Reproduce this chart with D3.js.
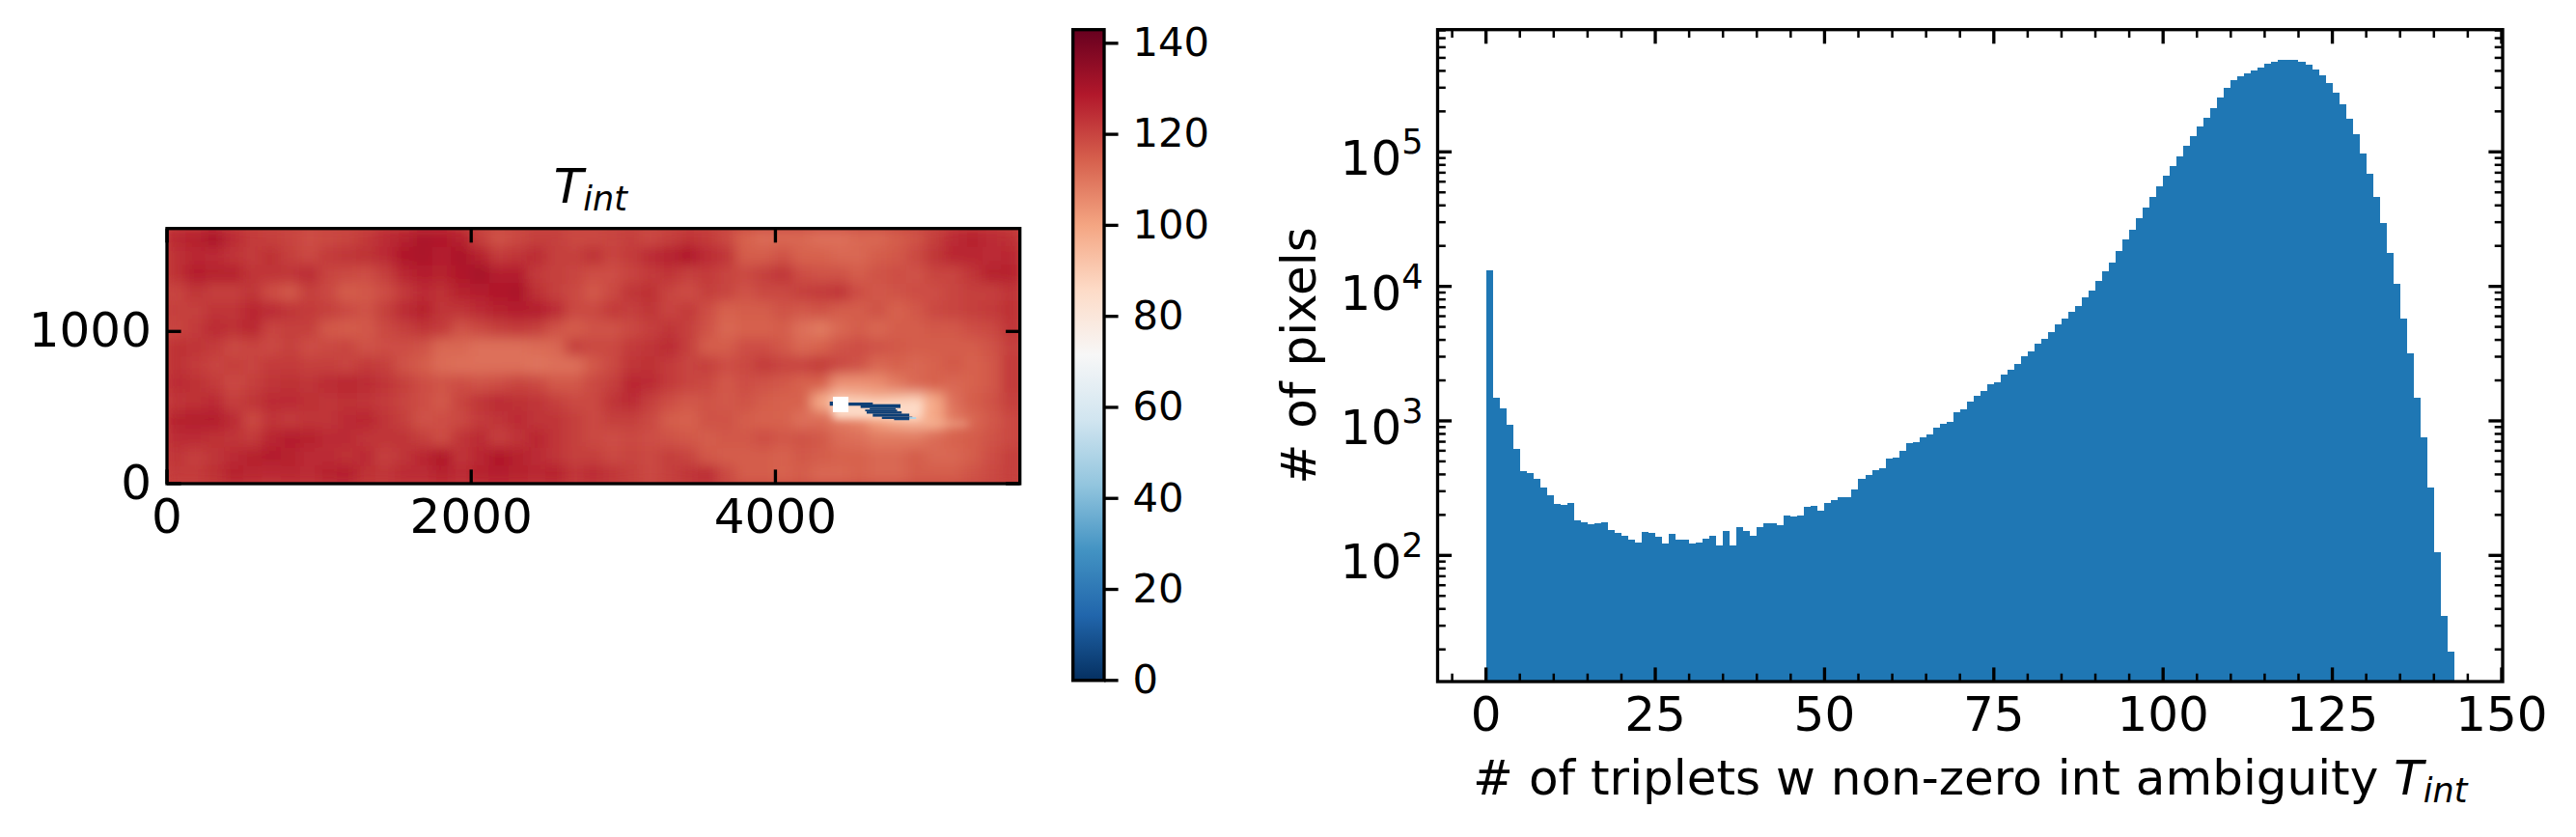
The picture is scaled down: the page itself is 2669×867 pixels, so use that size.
<!DOCTYPE html>
<html><head><meta charset="utf-8">
<script src="https://cdnjs.cloudflare.com/ajax/libs/d3/7.8.5/d3.min.js"></script>
<style>html,body{margin:0;padding:0;background:#fff}svg{display:block}text{font-family:'DejaVu Sans';fill:#000}</style>
</head><body><svg id="fig" width="2669" height="867"></svg>
<script>
// ---------- Right panel: histogram (pixel count per integer bin, starting at 0) ----------
const histCounts = [13240,1486,1240,936,619,421,410,371,320,280,241,238,245,182,176,171,173,176,155,147,
 140,131,125,150,147,138,123,145,131,131,123,125,133,140,119,152,119,162,152,140,
 162,173,173,168,198,195,198,230,233,215,245,258,271,271,309,371,396,431,445,525,
 534,599,684,695,755,793,891,951,984,1160,1219,1392,1537,1669,1874,1936,2211,2400,2651,3026,
 3286,3750,4074,4575,5220,5764,6470,7185,8336,9360,11040,13030,15100,18430,22490,26510,32330,38770,46500,55700,
 66800,78900,93100,111000,131000,154500,179000,211000,253000,299000,342000,365000,384000,403000,424000,452000,467000,483000,483000,483000,
 467000,445000,409000,371000,325000,275000,226000,176000,135000,97200,68700,46200,29600,17800,10500,5770,3180,1486,755,320,
 106,35.5,19.3];
const histMajorX = [0,25,50,75,100,125,150];
const histMinorX = [-5,5,10,15,20,30,35,40,45,55,60,65,70,80,85,90,95,105,110,115,120,130,135,140,145];
const histDecades = [100,1000,10000,100000];
const histMinorY = [20,30,40,50,60,70,80,90,200,300,400,500,600,700,800,900,2000,3000,4000,5000,6000,7000,8000,9000,
 20000,30000,40000,50000,60000,70000,80000,90000,200000,300000,400000,500000,600000,700000,800000];

// ---------- Left panel: T_int map, coarse reading of the local mean (rows from top to bottom) ----------
const heatGrid = [
 [126,127,130,125,122,121,120,118,119,120,122,125,127,130,129,127,121,117,119,121,121,119,119,120,121,119,121,123,122,119,114,112,113,113,111,111,113,113,115,117,121,125,127,125,124],
 [124,126,125,123,122,124,121,119,122,123,124,125,129,130,128,130,127,122,123,125,121,121,124,120,122,125,127,129,125,123,115,115,117,114,114,113,113,115,116,119,123,126,126,125,126],
 [124,128,127,127,123,123,123,125,120,119,118,121,126,128,127,129,131,128,128,122,121,120,118,118,120,122,123,121,122,120,119,121,123,118,117,117,115,117,118,117,120,120,123,127,127],
 [120,123,121,121,123,118,116,121,119,115,116,118,122,125,124,127,128,129,130,124,121,119,116,119,123,124,120,118,121,120,117,119,119,121,122,123,118,116,117,118,118,120,121,121,123],
 [121,121,123,123,126,125,123,122,121,119,117,121,125,127,123,123,125,127,128,128,125,119,119,122,121,123,120,122,118,114,115,115,117,116,117,115,115,117,114,116,119,120,121,122,124],
 [120,122,125,124,126,120,121,121,116,115,116,119,121,123,122,117,119,121,122,121,117,115,117,117,119,121,123,121,117,113,114,114,115,111,109,113,115,113,115,115,116,116,118,119,123],
 [124,123,122,119,120,119,121,118,119,120,117,118,118,117,113,113,111,111,111,112,113,121,119,119,122,123,125,121,115,115,118,118,116,113,114,117,118,117,116,115,115,115,115,117,121],
 [124,122,120,121,120,122,122,121,121,120,122,121,117,115,112,111,111,111,111,110,111,111,116,119,123,124,122,120,121,118,119,122,120,120,122,119,117,113,114,113,114,116,114,116,122],
 [125,124,122,119,121,123,124,123,125,126,125,123,121,118,117,118,117,118,120,119,116,116,119,121,126,125,122,120,119,116,118,117,116,114,114,104,104,105,109,113,114,113,114,116,122],
 [123,124,125,121,123,125,125,124,123,124,123,122,120,118,116,120,123,125,124,123,121,119,119,123,125,121,118,116,117,116,117,115,114,114,99,91,93,95,93,91,99,111,115,117,121],
 [127,128,128,125,119,123,122,123,123,125,126,123,121,117,118,119,122,123,125,123,123,121,119,121,121,119,115,114,117,117,115,114,114,111,112,109,107,101,97,95,99,109,113,116,119],
 [125,125,124,123,122,126,128,127,125,125,123,123,123,121,118,123,125,121,123,126,123,121,119,118,119,118,117,116,115,116,116,118,116,117,116,112,111,109,109,109,112,114,115,117,119],
 [123,121,123,125,127,128,127,125,125,124,125,121,123,126,129,123,126,129,127,125,123,121,121,119,120,119,121,120,116,115,115,115,114,116,115,114,114,113,113,115,113,113,115,118,121],
 [122,122,124,127,126,125,126,125,127,128,124,123,125,125,127,125,127,128,127,126,127,123,125,123,121,119,121,123,125,119,115,115,114,115,113,113,114,113,113,115,115,115,117,119,121]
];
// Fine features around the anomaly: x0,x1,y0,y1 in map units and the value read there.
const haloRuns = [
 [4380,4960,425,545,86],[4980,5270,385,400,92]
];
const blueRuns = [
 [4357,4378,512,539,4],[4480,4640,512,533,4],[4560,4822,497,522,4],[4620,4790,487,497,4],[4590,4800,475,487,4],
 [4600,4830,460,475,4],[4640,4880,440,460,4],[4700,4900,425,440,4],[4780,4880,417,425,6],[4880,4925,425,437,50]
];
const maskedBox = [4378,4480,470,571];
const mapTicksX = [0,2000,4000];
const mapTicksY = [0,1000];
const mapExtent = [5607,1676];
const cbarTicks = [0,20,40,60,80,100,120,140];
const cbarDomain = [0,143];
const rdbuStops = ["#053061","#2166ac","#4393c3","#92c5de","#d1e5f0","#f7f7f7","#fddbc7","#f4a582","#d6604d","#b2182b","#67001f"];
const tickLabelHistX = "# of triplets w non-zero int ambiguity ";
const tickLabelHistY = "# of pixels";

// ---------- Layout ----------
const svg = d3.select("#fig");
const SPINE = 3.33, MAJOR = 14.6, MINOR = 8.3, FS = 50, FS_CB = 41.67;
const color = d3.scaleLinear().domain(rdbuStops.map((c,i)=>cbarDomain[1]*i/10)).range(rdbuStops).interpolate(d3.interpolateRgb);

function styleAxis(g, w){
  g.select(".domain").remove();
  g.selectAll("line").attr("stroke","#000").attr("stroke-width",w);
  g.selectAll("text").attr("font-size",FS).attr("font-family","DejaVu Sans").attr("fill","#000");
}
function spines(l,r,t,b){
  svg.append("rect").attr("x",l).attr("y",t).attr("width",r-l).attr("height",b-t)
    .attr("fill","none").attr("stroke","#000").attr("stroke-width",SPINE);
}
function mathT(sel, size){
  sel.append("tspan").attr("font-style","italic").text("T");
  sel.append("tspan").attr("font-style","italic").attr("font-size",size*0.7).attr("dy",size*0.16).text("int");
}

// ---------- Map ----------
const mL=173, mR=1056.7, mT=236.7, mB=501;
const mx = d3.scaleLinear().domain([0,mapExtent[0]]).range([mL,mR]);
const my = d3.scaleLinear().domain([0,mapExtent[1]]).range([mB,mT]);
const defs = svg.append("defs");
defs.append("clipPath").attr("id","mapClip").append("rect").attr("x",mL).attr("y",mT).attr("width",mR-mL).attr("height",mB-mT);
const blur = defs.append("filter").attr("id","soft").attr("filterUnits","userSpaceOnUse")
  .attr("x",mL-60).attr("y",mT-60).attr("width",mR-mL+120).attr("height",mB-mT+120);
blur.append("feGaussianBlur").attr("stdDeviation",6.5);
defs.append("filter").attr("id","soft2").attr("filterUnits","userSpaceOnUse")
  .attr("x",mL).attr("y",mT).attr("width",mR-mL).attr("height",mB-mT)
  .append("feGaussianBlur").attr("stdDeviation",4);
const mapG = svg.append("g").attr("clip-path","url(#mapClip)");
mapG.append("rect").attr("x",mL).attr("y",mT).attr("width",mR-mL).attr("height",mB-mT).attr("fill",color(120));
const nRows = heatGrid.length, nCols = heatGrid[0].length;
const cw = mapExtent[0]/nCols, ch = mapExtent[1]/nRows;
const coarse = mapG.append("g").attr("filter","url(#soft)");
heatGrid.forEach((row,r)=>{
  coarse.selectAll(null).data(row).join("rect")
    .attr("x",(d,c)=>mx(c*cw)).attr("width",mx(cw)-mx(0)+0.6)
    .attr("y",my(mapExtent[1]-r*ch)).attr("height",my(0)-my(ch)+0.6)
    .attr("fill",d=>color(d));
});
function runs(g,data){
  g.selectAll(null).data(data).join("rect")
    .attr("x",d=>mx(d[0])).attr("width",d=>mx(d[1])-mx(d[0]))
    .attr("y",d=>my(d[3])).attr("height",d=>my(d[2])-my(d[3]))
    .attr("fill",d=>color(d[4]));
}
runs(mapG.append("g").attr("filter","url(#soft2)"),haloRuns);
runs(mapG.append("g"),blueRuns);
mapG.append("rect").attr("x",mx(maskedBox[0])).attr("width",mx(maskedBox[1])-mx(maskedBox[0]))
  .attr("y",my(maskedBox[3])).attr("height",my(maskedBox[2])-my(maskedBox[3])).attr("fill","#fff");

styleAxis(svg.append("g").attr("transform",`translate(0,${mB})`)
  .call(d3.axisBottom(mx).tickValues(mapTicksX).tickSize(-MAJOR).tickPadding(15).tickFormat(d3.format("d")).offset(0)),SPINE);
styleAxis(svg.append("g").attr("transform",`translate(0,${mT})`)
  .call(d3.axisTop(mx).tickValues(mapTicksX).tickSize(-MAJOR).tickFormat("").offset(0)),SPINE);
styleAxis(svg.append("g").attr("transform",`translate(${mL},0)`)
  .call(d3.axisLeft(my).tickValues(mapTicksY).tickSize(-MAJOR).tickPadding(16).tickFormat(d3.format("d")).offset(0)),SPINE);
styleAxis(svg.append("g").attr("transform",`translate(${mR},0)`)
  .call(d3.axisRight(my).tickValues(mapTicksY).tickSize(-MAJOR).tickFormat("").offset(0)),SPINE);
spines(mL,mR,mT,mB);
mathT(svg.append("text").attr("x",(mL+mR)/2-3).attr("y",210).attr("text-anchor","middle").attr("font-size",FS),FS);

// ---------- Colour bar ----------
const cL=1111.7, cR=1144, cT=30.7, cB=704.8;
const cy = d3.scaleLinear().domain(cbarDomain).range([cB,cT]);
const grad = defs.append("linearGradient").attr("id","cbar").attr("x1",0).attr("x2",0).attr("y1",1).attr("y2",0);
rdbuStops.forEach((c,i)=>grad.append("stop").attr("offset",i/10).attr("stop-color",c));
svg.append("rect").attr("x",cL).attr("y",cT).attr("width",cR-cL).attr("height",cB-cT).attr("fill","url(#cbar)");
const cbAxis = svg.append("g").attr("transform",`translate(${cR},0)`)
  .call(d3.axisRight(cy).tickValues(cbarTicks).tickSize(MAJOR).tickPadding(15).tickFormat(d3.format("d")).offset(0));
styleAxis(cbAxis,SPINE);
cbAxis.selectAll("text").attr("font-size",FS_CB);
spines(cL,cR,cT,cB);

// ---------- Histogram ----------
const hL=1489.5, hR=2593, hT=30.7, hB=706;
const hx = d3.scaleLinear().domain([-7.15,150.15]).range([hL,hR]);
const hy = d3.scaleLog().domain([Math.pow(10,2-(706-575.3)/139.33),Math.pow(10,5+(157.3-30.7)/139.33)]).range([hB,hT]);
svg.append("g").selectAll("rect").data(histCounts).join("rect")
  .attr("x",(d,i)=>hx(i)).attr("width",(d,i)=>hx(i+1)-hx(i))
  .attr("y",d=>hy(d)).attr("height",d=>hB-hy(d))
  .attr("fill","#1f77b4").attr("shape-rendering","crispEdges");

styleAxis(svg.append("g").attr("transform",`translate(0,${hB})`)
  .call(d3.axisBottom(hx).tickValues(histMinorX).tickSize(-MINOR).tickFormat("").offset(0)),2.5);
styleAxis(svg.append("g").attr("transform",`translate(0,${hB})`)
  .call(d3.axisBottom(hx).tickValues(histMajorX).tickSize(-MAJOR).tickPadding(15).tickFormat(d3.format("d")).offset(0)),SPINE);
styleAxis(svg.append("g").attr("transform",`translate(0,${hT})`)
  .call(d3.axisTop(hx).tickValues(histMinorX).tickSize(-MINOR).tickFormat("").offset(0)),2.5);
styleAxis(svg.append("g").attr("transform",`translate(0,${hT})`)
  .call(d3.axisTop(hx).tickValues(histMajorX).tickSize(-MAJOR).tickFormat("").offset(0)),SPINE);
styleAxis(svg.append("g").attr("transform",`translate(${hL},0)`)
  .call(d3.axisLeft(hy).tickValues(histMinorY).tickSize(-MINOR).tickFormat("").offset(0)),2.5);
const leftMajor = svg.append("g").attr("transform",`translate(${hL},0)`)
  .call(d3.axisLeft(hy).tickValues(histDecades).tickSize(-MAJOR).tickPadding(15).tickFormat("").offset(0));
styleAxis(leftMajor,SPINE);
leftMajor.selectAll("text").each(function(d){
  const t=d3.select(this).attr("dy",0).attr("y",24).attr("x",-15).attr("text-anchor","end");
  t.append("tspan").text("10");
  t.append("tspan").attr("font-size",FS*0.7).attr("dy",-22).text(Math.round(Math.log10(d)));
});
styleAxis(svg.append("g").attr("transform",`translate(${hR},0)`)
  .call(d3.axisRight(hy).tickValues(histMinorY).tickSize(-MINOR).tickFormat("").offset(0)),2.5);
styleAxis(svg.append("g").attr("transform",`translate(${hR},0)`)
  .call(d3.axisRight(hy).tickValues(histDecades).tickSize(-MAJOR).tickFormat("").offset(0)),SPINE);
spines(hL,hR,hT,hB);

const xl = svg.append("text").attr("x",(hL+hR)/2).attr("y",823).attr("text-anchor","middle").attr("font-size",FS);
xl.append("tspan").text(tickLabelHistX);
mathT(xl,FS);
svg.append("text").attr("transform",`translate(1363,${(hT+hB)/2}) rotate(-90)`).attr("text-anchor","middle").attr("font-size",FS).text(tickLabelHistY);
</script></body></html>
